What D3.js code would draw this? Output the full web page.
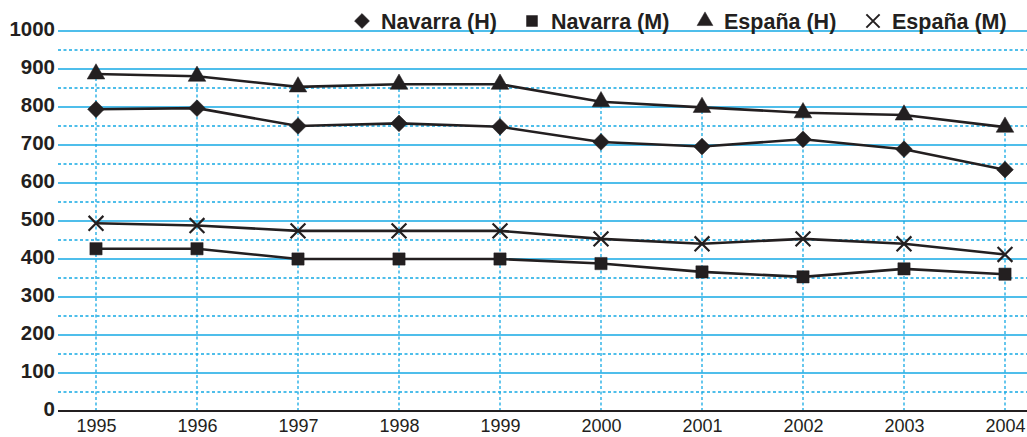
<!DOCTYPE html>
<html>

<head>
    <meta charset="utf-8">
    <title>Navarra / España</title>
    <style>
        body {
            margin: 0;
            background: #fff;
        }

        text {
            font-family: "Liberation Sans", Arial, Helvetica, sans-serif;
            fill: #231f20;
        }
    </style>
    <script src="https://d3js.org/d3.v7.min.js"></script>
</head>

<body>
    <script>
        // data
        let years = ["1995", "1996", "1997", "1998", "1999", "2000", "2001", "2002", "2003", "2004"];
        let navarraH = [794, 797, 750, 757, 748, 708, 696, 715, 689, 635];
        let navarraM = [427, 427, 400, 400, 400, 388, 366, 353, 374, 360];
        let espanaH = [887, 881, 853, 860, 860, 814, 799, 785, 779, 747];
        let espanaM = [494, 488, 474, 474, 474, 453, 440, 453, 440, 412];
        let seriesNames = ["Navarra (H)", "Navarra (M)", "España (H)", "España (M)"];
        let yTicks = [0, 100, 200, 300, 400, 500, 600, 700, 800, 900, 1000];

        let width = 1027;
        let height = 437;
        let left = 58;

        // diamond = square turned by 45 degrees
        let series = [
            { name: seriesNames[0], values: navarraH, symbol: d3.symbolSquare, size: 140, rot: 45 },
            { name: seriesNames[1], values: navarraM, symbol: d3.symbolSquare, size: 150, rot: 0 },
            { name: seriesNames[2], values: espanaH, symbol: d3.symbolTriangle, size: 135, rot: 0 },
            { name: seriesNames[3], values: espanaM, symbol: d3.symbolTimes, size: 145, rot: 0 }
        ];

        let svg = d3.select("body")
            .append("svg")
            .attr("width", width)
            .attr("height", height);

        let x = d3.scalePoint()
            .domain(years)
            .range([96, 1005]);

        let y = d3.scaleLinear()
            .domain([0, 1000])
            .range([411, 31]);

        let blue = "#14a9e4";

        // half-step dashed grid
        let halfTicks = yTicks.slice(0, -1).map(function (d) { return d + 50; });
        svg.selectAll(".half")
            .data(halfTicks)
            .enter()
            .append("line")
            .attr("x1", left)
            .attr("x2", width)
            .attr("y1", function (d) { return y(d); })
            .attr("y2", function (d) { return y(d); })
            .style("stroke", blue)
            .style("stroke-width", 1.3)
            .style("stroke-dasharray", "3,2.5");

        // solid grid
        svg.selectAll(".grid")
            .data(yTicks.slice(1))
            .enter()
            .append("line")
            .attr("x1", left)
            .attr("x2", width)
            .attr("y1", function (d) { return y(d); })
            .attr("y2", function (d) { return y(d); })
            .style("stroke", blue)
            .style("stroke-width", 1.7);

        // vertical dashed lines up to the top series
        svg.selectAll(".vline")
            .data(years)
            .enter()
            .append("line")
            .attr("x1", function (d) { return x(d); })
            .attr("x2", function (d) { return x(d); })
            .attr("y1", y(0))
            .attr("y2", function (d, i) { return y(espanaH[i]); })
            .style("stroke", blue)
            .style("stroke-width", 1.3)
            .style("stroke-dasharray", "3,2.5");

        // x axis
        let xAxis = d3.axisBottom(x).tickSize(0).tickPadding(8);
        let gx = svg.append("g")
            .attr("transform", `translate(0, ${y(0)})`)
            .call(xAxis);
        gx.select(".domain").remove();
        gx.selectAll("text")
            .style("font-size", "18px")
            .style("fill", "#231f20");
        svg.append("line")
            .attr("x1", left)
            .attr("x2", width)
            .attr("y1", y(0))
            .attr("y2", y(0))
            .style("stroke", "#231f20")
            .style("stroke-width", 2);

        // y axis labels
        let yAxis = d3.axisLeft(y).tickValues(yTicks).tickFormat(d3.format("d")).tickSize(0).tickPadding(3);
        let gy = svg.append("g")
            .attr("transform", `translate(${left}, 0)`)
            .call(yAxis);
        gy.select(".domain").remove();
        gy.selectAll("text")
            .attr("dy", "0.22em")
            .style("font-size", "20.5px")
            .style("font-weight", "bold")
            .style("fill", "#231f20");

        let line = d3.line()
            .x(function (d, i) { return x(years[i]); })
            .y(function (d) { return y(d); });

        series.forEach(function (s) {
            svg.append("path")
                .datum(s.values)
                .attr("d", line)
                .style("fill", "none")
                .style("stroke", "#231f20")
                .style("stroke-width", 2.6);

            let sym = d3.symbol().type(s.symbol).size(s.size);
            svg.selectAll(null)
                .data(s.values)
                .enter()
                .append("path")
                .attr("d", sym)
                .attr("transform", function (d, i) {
                    return `translate(${x(years[i])}, ${y(d)}) rotate(${s.rot})`;
                })
                .style("fill", s.symbol === d3.symbolTimes ? "none" : "#231f20")
                .style("stroke", "#231f20")
                .style("stroke-width", s.symbol === d3.symbolTimes ? 2.2 : 0.5);
        });

        // legend
        let legendX = [362, 532, 705, 873];
        let legend = svg.selectAll(".legend")
            .data(series)
            .enter()
            .append("g")
            .attr("transform", function (d, i) { return `translate(${legendX[i]}, 21)`; });

        legend.append("path")
            .attr("d", function (d) { return d3.symbol().type(d.symbol).size(d.size * 0.8)(); })
            .attr("transform", function (d) { return `rotate(${d.rot})`; })
            .style("fill", function (d) { return d.symbol === d3.symbolTimes ? "none" : "#231f20"; })
            .style("stroke", "#231f20")
            .style("stroke-width", function (d) { return d.symbol === d3.symbolTimes ? 2 : 0.5; });

        legend.append("text")
            .attr("x", 19)
            .attr("y", 7.5)
            .style("font-size", "21.5px")
            .style("font-weight", "bold")
            .text(function (d) { return d.name; });
    </script>
</body>

</html>
